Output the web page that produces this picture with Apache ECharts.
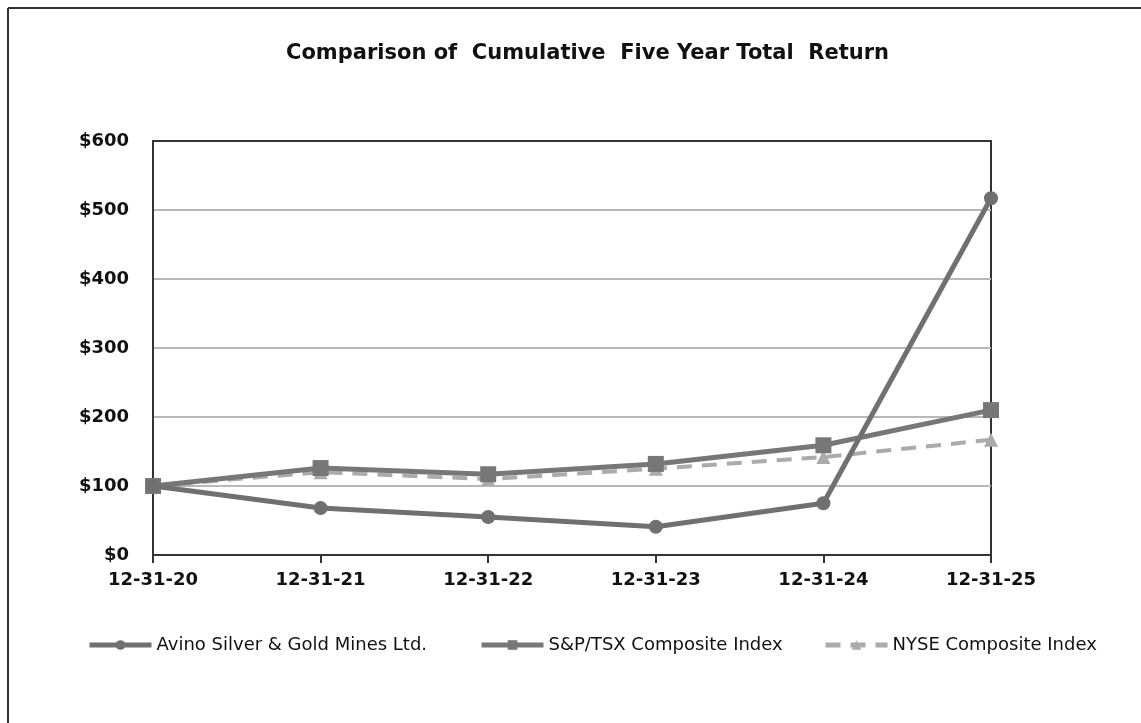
<!DOCTYPE html>
<html>
<head>
<meta charset="utf-8">
<script src="https://cdn.jsdelivr.net/npm/echarts@6/dist/echarts.min.js"></script>
<style>
html,body{margin:0;padding:0;background:#fff;}
#chart{width:1141px;height:723px;}
</style>
</head>
<body>
<div id="chart"></div>
<script>
const categories = ['12-31-20','12-31-21','12-31-22','12-31-23','12-31-24','12-31-25'];
const avino = [100, 68, 55, 41, 75, 517];
const sptsx = [100, 126, 117, 132, 159, 210];
const nyse = [100, 120, 110, 125, 142, 167];
const seriesNames = ['Avino Silver & Gold Mines Ltd.', 'S&P/TSX Composite Index', 'NYSE Composite Index'];

const FONT = '"DejaVu Sans", "Liberation Sans", Arial, sans-serif';
const legendLeft = [82, 474, 818];
const chart = echarts.init(document.getElementById('chart'));
chart.setOption({
  backgroundColor: '#fff',
  animation: false,
  title: {
    text: 'Comparison of  Cumulative  Five Year Total  Return',
    left: 281, top: 38,
    textStyle: {fontFamily: FONT, fontSize: 21, fontWeight: 'bold', color: '#111'}
  },
  grid: {left: 153, right: 150, top: 141, bottom: 168, show: true, borderColor: '#333', borderWidth: 2},
  graphic: [
    {type: 'line', shape: {x1: 8, y1: 8, x2: 1141, y2: 8}, style: {stroke: '#333', lineWidth: 2}},
    {type: 'line', shape: {x1: 8, y1: 8, x2: 8, y2: 723}, style: {stroke: '#333', lineWidth: 2}}
  ],
  legend: seriesNames.map((n, i) => ({
    bottom: 64, left: legendLeft[i], itemWidth: 62, itemHeight: 12, itemGap: 8,
    lineStyle: {width: 5},
    textStyle: {fontFamily: FONT, fontSize: 18, color: '#111'},
    data: [n]
  })),
  xAxis: [{
    type: 'category', data: categories, boundaryGap: false,
    axisLine: {lineStyle: {color: '#333', width: 2}},
    axisTick: {show: true, length: 8, lineStyle: {color: '#333', width: 2}},
    axisLabel: {fontFamily: FONT, fontSize: 18, fontWeight: 'bold', color: '#111', margin: 16},
    splitLine: {show: false}
  }, {
    type: 'category', data: categories, boundaryGap: false, position: 'top',
    axisLine: {show: true, lineStyle: {color: '#333', width: 2}},
    axisTick: {show: false}, axisLabel: {show: false}, splitLine: {show: false}
  }],
  yAxis: {
    type: 'value', min: 0, max: 600, interval: 100,
    axisLine: {show: true, lineStyle: {color: '#333', width: 2}},
    axisTick: {show: false},
    axisLabel: {fontFamily: FONT, fontSize: 18, fontWeight: 'bold', color: '#111', margin: 24, formatter: v => '$' + v},
    splitLine: {lineStyle: {color: '#b8b8b8', width: 2}}
  },
  series: [
    {name: seriesNames[0], type: 'line', data: avino, symbol: 'circle', symbolSize: 14,
     lineStyle: {color: '#707070', width: 5}, itemStyle: {color: '#707070'}, z: 4},
    {name: seriesNames[1], type: 'line', data: sptsx, symbol: 'rect', symbolSize: 16,
     lineStyle: {color: '#777777', width: 5}, itemStyle: {color: '#777777'}, z: 3},
    {name: seriesNames[2], type: 'line', data: nyse, symbol: 'triangle', symbolSize: 14,
     lineStyle: {color: '#ababab', width: 4, type: [15, 10]}, itemStyle: {color: '#ababab'}, z: 2}
  ]
});
</script>
</body>
</html>
